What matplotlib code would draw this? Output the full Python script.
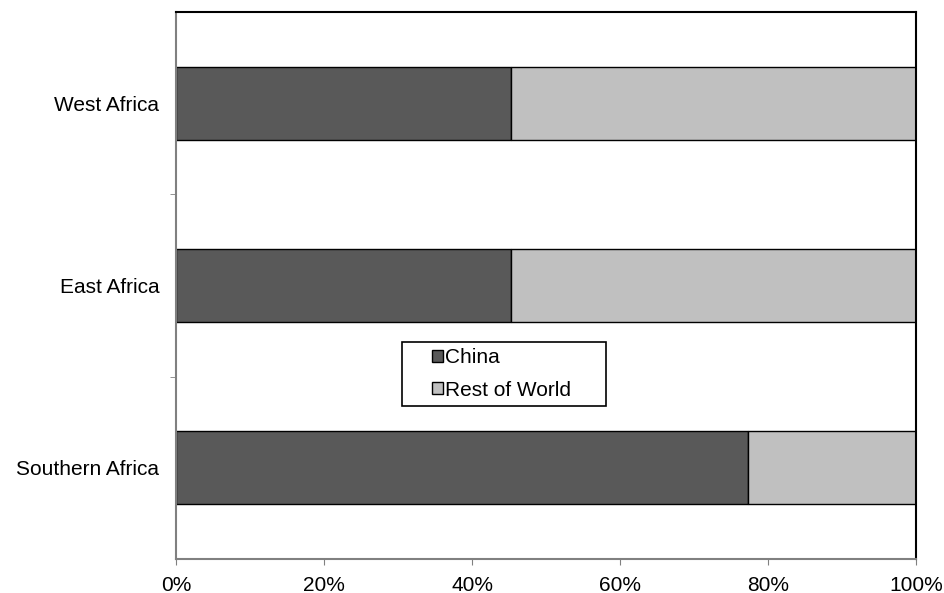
import matplotlib
matplotlib.use('Agg')
import matplotlib.pyplot as plt
from matplotlib.patches import Rectangle
import numpy as np

regions = ['Southern Africa', 'East Africa', 'West Africa']
china = [77.3, 45.3, 45.3]
rest_of_world = [22.7, 54.7, 54.7]

plt.rcParams['font.family'] = ['Liberation Sans', 'DejaVu Sans']

fig = plt.figure(figsize=(9.44, 5.93), dpi=100)
ax = fig.add_axes([176 / 944, 1 - 559 / 593, 740 / 944, 547 / 593])

y = np.arange(len(regions))
ax.barh(y, china, height=0.4, color='#595959', edgecolor='black', linewidth=1, label='China')
ax.barh(y, rest_of_world, left=china, height=0.4, color='#c0c0c0', edgecolor='black', linewidth=1,
        label='Rest of World')

ax.set_xlim(0, 100)
ax.set_ylim(-0.5, 2.5)
ax.set_xticks(np.arange(0, 101, 20))
ax.set_xticklabels([f'{v}%' for v in range(0, 101, 20)], fontsize=15)
ax.set_yticks(y)
ax.set_yticklabels(regions, fontsize=15)
ax.set_yticks([0.5, 1.5], minor=True)
ax.tick_params(axis='y', which='major', length=0, pad=12)
ax.tick_params(axis='y', which='minor', length=4, color='#808080')
ax.tick_params(axis='x', length=4, color='#808080', pad=8)

for side in ['left', 'bottom']:
    ax.spines[side].set_color('#808080')
    ax.spines[side].set_linewidth(1.5)
for side in ['top', 'right']:
    ax.spines[side].set_color('black')
    ax.spines[side].set_linewidth(1.5)

# legend box drawn separately so the padding can differ left/right vs top/bottom
box = Rectangle((402 / 944, 1 - 406 / 593), 204 / 944, 64 / 593,
                transform=fig.transFigure, facecolor='white', edgecolor='black',
                linewidth=1.2, zorder=4, clip_on=False)
ax.add_patch(box)
leg = ax.legend(loc='center left', bbox_to_anchor=(422 / 944, 1 - 374 / 593),
                bbox_transform=fig.transFigure, fontsize=15, frameon=False,
                handlelength=0.5, handleheight=0.5, handletextpad=0.1, borderpad=0,
                labelspacing=0.65)
leg.set_zorder(6)

fig.savefig('out.png', dpi=100)
